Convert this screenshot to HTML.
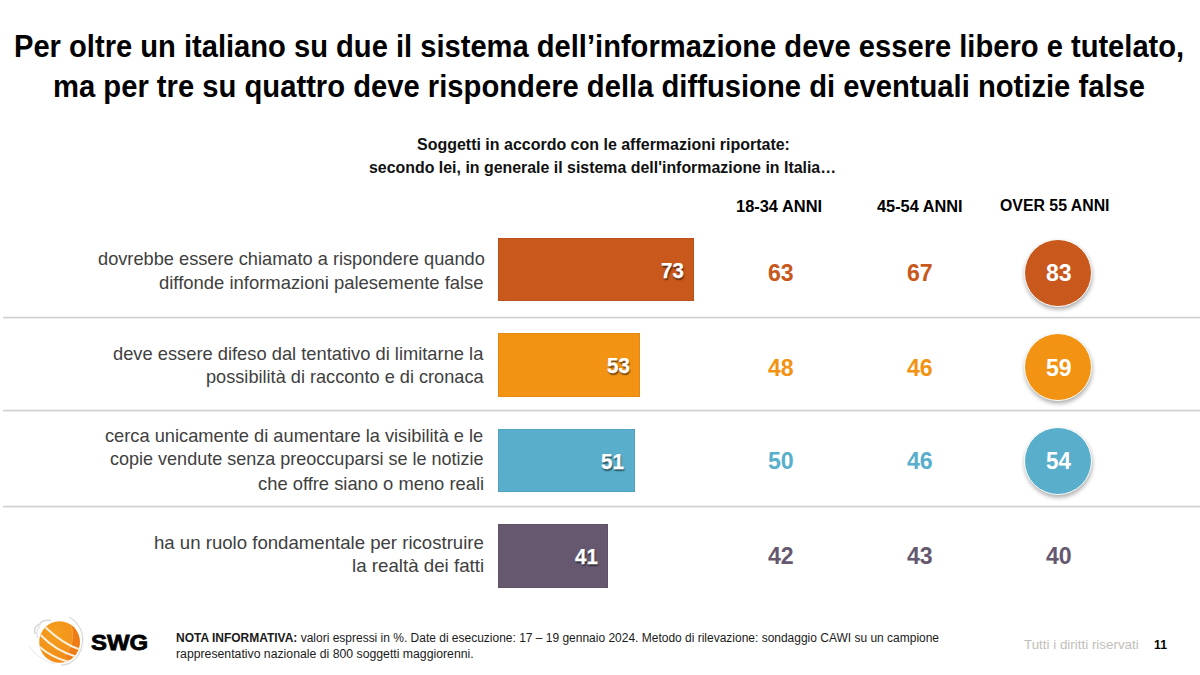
<!DOCTYPE html>
<html><head><meta charset="utf-8"><style>
html,body{margin:0;padding:0;background:#fff;}
body{width:1200px;height:675px;position:relative;overflow:hidden;font-family:"Liberation Sans", sans-serif;}
.t{position:absolute;white-space:nowrap;transform-origin:0 0;}
.t b{font-weight:bold;}
.sep{position:absolute;left:3px;width:1197px;height:1px;background:#d0d0d0;box-shadow:0 1px 0 #ebebeb,0 -1px 0 #f3f3f3;}
.bar{position:absolute;left:498px;height:63.4px;box-shadow:inset 0 0 0 0.6px rgba(0,0,0,0.12);}
.circ{position:absolute;width:66px;height:66px;border-radius:50%;border:1.5px solid #fff;box-shadow:0.5px 2.5px 4px rgba(0,0,0,0.32);}
</style></head><body>
<div class="sep" style="top:317.0px"></div>
<div class="sep" style="top:410.0px"></div>
<div class="sep" style="top:506.0px"></div>
<div class="bar" style="top:238.0px;width:195.6px;background:#C8581B"></div>
<div class="bar" style="top:333.4px;width:142.0px;background:#F29314"></div>
<div class="bar" style="top:428.8px;width:136.5px;background:#58AECB"></div>
<div class="bar" style="top:524.2px;width:109.7px;background:#66596F"></div>
<div class="circ" style="top:238.5px;left:1024.0px;background:#C8581B"></div>
<div class="circ" style="top:333.2px;left:1024.0px;background:#F29314"></div>
<div class="circ" style="top:426.7px;left:1024.0px;background:#58AECB"></div>
<svg style="position:absolute;left:25px;top:612px" width="70" height="60" viewBox="25 612 70 60">
<defs>
<clipPath id="sph"><ellipse cx="59.5" cy="642" rx="20.3" ry="20.8"/></clipPath>
<radialGradient id="g1" cx="0.4" cy="0.3" r="0.75"><stop offset="0" stop-color="#F59E1E"/><stop offset="1" stop-color="#F08C18"/></radialGradient>
</defs>
<path d="M35.5 634 C33 629 36 625 40 624 C41 621 46 619.5 51 620.5" fill="none" stroke="#d6d6d6" stroke-width="1.5"/>
<path d="M37.5 638 C36 633 37 629 40 626" fill="none" stroke="#e0e0e0" stroke-width="1.2"/>
<path d="M69 617 C78 622 84 632 82.5 643 C81.5 651 77 659 70 663 C67 664.5 64 665 61 665" fill="none" stroke="#dcdcdc" stroke-width="1.4"/>
<path d="M29 646 C35 655 44 661 55 664" fill="none" stroke="#e8e8e8" stroke-width="1"/>
<ellipse cx="59.5" cy="642" rx="20.3" ry="20.8" fill="url(#g1)"/>
<g clip-path="url(#sph)">
<path d="M70.5 623.5 C74.5 633 73.5 646 65 656 L85 670 L85 615 Z" fill="#EE7A18"/>
<path d="M38 655 C45 660 52 664 62 665 L38 670 Z" fill="#E9821A"/>
<path d="M70.5 623.5 C74.5 633 73.5 646 65 656" fill="none" stroke="#F7AE4A" stroke-width="0.7"/>
<path d="M44.5 626.5 C55 636.5 66 645.5 80 649.5" fill="none" stroke="#FFF0DA" stroke-width="2.1"/>
<path d="M39.5 634 C50 645 62 653 77 657" fill="none" stroke="#FFF0DA" stroke-width="2.1"/>
<path d="M38.5 646 C47 653.5 57 659 69 662" fill="none" stroke="#FFF0DA" stroke-width="2"/>
</g>
</svg>

<div class="t" style="left:14.45px;top:28.60px;font-size:31.50px;line-height:35.191px;font-weight:bold;color:#000;transform:scaleX(0.9246);">Per oltre un italiano su due il sistema dell’informazione deve essere libero e tutelato,</div>
<div class="t" style="left:53.45px;top:68.60px;font-size:31.50px;line-height:35.191px;font-weight:bold;color:#000;transform:scaleX(0.9270);">ma per tre su quattro deve rispondere della diffusione di eventuali notizie false</div>
<div class="t" style="left:416.50px;top:134.81px;font-size:16.40px;line-height:18.322px;font-weight:bold;color:#111;transform:scaleX(0.9750);">Soggetti in accordo con le affermazioni riportate:</div>
<div class="t" style="left:369.20px;top:157.70px;font-size:16.40px;line-height:18.322px;font-weight:bold;color:#111;transform:scaleX(0.9708);">secondo lei, in generale il sistema dell'informazione in Italia…</div>
<div class="t" style="left:736.04px;top:196.82px;font-size:17.20px;line-height:19.216px;font-weight:bold;color:#000;transform:scaleX(0.9554);">18-34 ANNI</div>
<div class="t" style="left:877.00px;top:196.82px;font-size:17.20px;line-height:19.216px;font-weight:bold;color:#000;transform:scaleX(0.9503);">45-54 ANNI</div>
<div class="t" style="left:1000.30px;top:195.82px;font-size:17.20px;line-height:19.216px;font-weight:bold;color:#000;transform:scaleX(0.9223);">OVER 55 ANNI</div>
<div class="t" style="left:97.50px;top:249.21px;font-size:18.50px;line-height:20.668px;font-weight:normal;color:#404040;transform:scaleX(0.9845);">dovrebbe essere chiamato a rispondere quando</div>
<div class="t" style="left:159.20px;top:273.00px;font-size:18.50px;line-height:20.668px;font-weight:normal;color:#404040;transform:scaleX(0.9967);">diffonde informazioni palesemente false</div>
<div class="t" style="left:113.00px;top:344.11px;font-size:18.50px;line-height:20.668px;font-weight:normal;color:#404040;transform:scaleX(0.9893);">deve essere difeso dal tentativo di limitarne la</div>
<div class="t" style="left:205.72px;top:366.81px;font-size:18.50px;line-height:20.668px;font-weight:normal;color:#404040;transform:scaleX(0.9816);">possibilità di racconto e di cronaca</div>
<div class="t" style="left:105.30px;top:426.11px;font-size:18.50px;line-height:20.668px;font-weight:normal;color:#404040;transform:scaleX(0.9862);">cerca unicamente di aumentare la visibilità e le</div>
<div class="t" style="left:110.00px;top:449.40px;font-size:18.50px;line-height:20.668px;font-weight:normal;color:#404040;transform:scaleX(0.9739);">copie vendute senza preoccuparsi se le notizie</div>
<div class="t" style="left:258.30px;top:473.81px;font-size:18.50px;line-height:20.668px;font-weight:normal;color:#404040;transform:scaleX(0.9918);">che offre siano o meno reali</div>
<div class="t" style="left:153.69px;top:532.90px;font-size:18.50px;line-height:20.668px;font-weight:normal;color:#404040;transform:scaleX(1.0056);">ha un ruolo fondamentale per ricostruire</div>
<div class="t" style="left:352.29px;top:555.90px;font-size:18.50px;line-height:20.668px;font-weight:normal;color:#404040;transform:scaleX(1.0117);">la realtà dei fatti</div>
<div class="t" style="left:660.50px;top:258.81px;font-size:21.90px;line-height:24.466px;font-weight:bold;color:#fff;transform:scaleX(0.9349);text-shadow:1px 1.5px 1.5px rgba(0,0,0,0.55);-webkit-text-stroke:0.25px #fff;">73</div>
<div class="t" style="left:606.90px;top:354.21px;font-size:21.90px;line-height:24.466px;font-weight:bold;color:#fff;transform:scaleX(0.9349);text-shadow:1px 1.5px 1.5px rgba(0,0,0,0.55);-webkit-text-stroke:0.25px #fff;">53</div>
<div class="t" style="left:601.40px;top:449.61px;font-size:21.90px;line-height:24.466px;font-weight:bold;color:#fff;transform:scaleX(0.9349);text-shadow:1px 1.5px 1.5px rgba(0,0,0,0.55);-webkit-text-stroke:0.25px #fff;">51</div>
<div class="t" style="left:574.60px;top:545.00px;font-size:21.90px;line-height:24.466px;font-weight:bold;color:#fff;transform:scaleX(0.9349);text-shadow:1px 1.5px 1.5px rgba(0,0,0,0.55);-webkit-text-stroke:0.25px #fff;">41</div>
<div class="t" style="left:767.90px;top:259.40px;font-size:24.40px;line-height:27.259px;font-weight:bold;color:#C8581B;transform:scaleX(0.9486);">63</div>
<div class="t" style="left:907.20px;top:259.40px;font-size:24.40px;line-height:27.259px;font-weight:bold;color:#C8581B;transform:scaleX(0.9486);">67</div>
<div class="t" style="left:1045.90px;top:259.40px;font-size:24.40px;line-height:27.259px;font-weight:bold;color:#fff;transform:scaleX(0.9486);">83</div>
<div class="t" style="left:767.90px;top:353.51px;font-size:24.40px;line-height:27.259px;font-weight:bold;color:#F29314;transform:scaleX(0.9486);">48</div>
<div class="t" style="left:907.20px;top:353.51px;font-size:24.40px;line-height:27.259px;font-weight:bold;color:#F29314;transform:scaleX(0.9486);">46</div>
<div class="t" style="left:1045.90px;top:353.51px;font-size:24.40px;line-height:27.259px;font-weight:bold;color:#fff;transform:scaleX(0.9486);">59</div>
<div class="t" style="left:767.90px;top:447.31px;font-size:24.40px;line-height:27.259px;font-weight:bold;color:#58AECB;transform:scaleX(0.9486);">50</div>
<div class="t" style="left:907.20px;top:447.31px;font-size:24.40px;line-height:27.259px;font-weight:bold;color:#58AECB;transform:scaleX(0.9486);">46</div>
<div class="t" style="left:1045.90px;top:447.31px;font-size:24.40px;line-height:27.259px;font-weight:bold;color:#fff;transform:scaleX(0.9142);">54</div>
<div class="t" style="left:767.90px;top:541.71px;font-size:24.40px;line-height:27.259px;font-weight:bold;color:#66596F;transform:scaleX(0.9486);">42</div>
<div class="t" style="left:907.20px;top:541.71px;font-size:24.40px;line-height:27.259px;font-weight:bold;color:#66596F;transform:scaleX(0.9486);">43</div>
<div class="t" style="left:1045.90px;top:541.71px;font-size:24.40px;line-height:27.259px;font-weight:bold;color:#66596F;transform:scaleX(0.9486);">40</div>
<div class="t" style="left:175.80px;top:631.51px;font-size:12.50px;line-height:13.965px;font-weight:normal;color:#1a1a1a;transform:scaleX(0.9586);"><b>NOTA INFORMATIVA:</b> valori espressi in %. Date di esecuzione: 17 – 19 gennaio 2024. Metodo di rilevazione: sondaggio CAWI su un campione</div>
<div class="t" style="left:175.80px;top:647.81px;font-size:12.50px;line-height:13.965px;font-weight:normal;color:#1a1a1a;transform:scaleX(0.9802);">rappresentativo nazionale di 800 soggetti maggiorenni.</div>
<div class="t" style="left:1023.50px;top:637.31px;font-size:13.50px;line-height:15.082px;font-weight:normal;color:#c3beb9;transform:scaleX(0.9908);">Tutti i diritti riservati</div>
<div class="t" style="left:1154.00px;top:637.31px;font-size:13.50px;line-height:15.082px;font-weight:bold;color:#000;transform:scaleX(0.9077);">11</div>
<div class="t" style="left:91.00px;top:630.41px;font-size:22.80px;line-height:25.472px;font-weight:bold;color:#000;transform:scaleX(1.0517);-webkit-text-stroke:0.8px #000;">SWG</div>
</body></html>
